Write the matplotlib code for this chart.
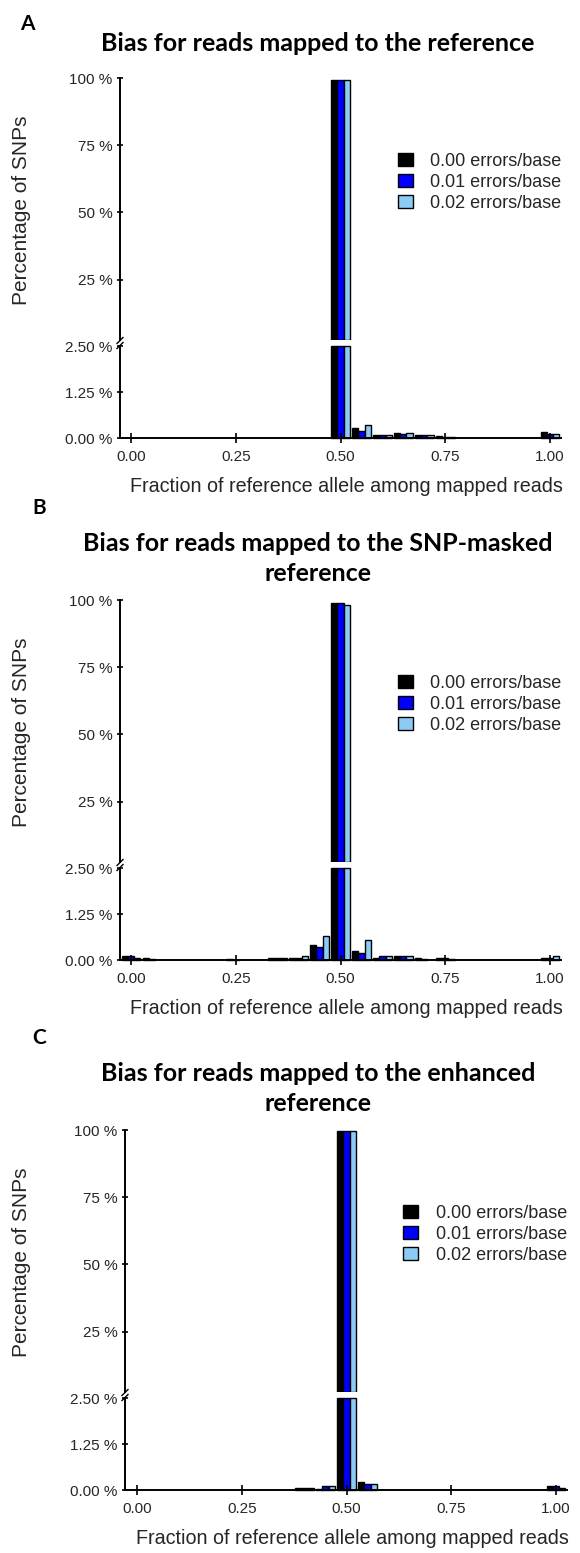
import numpy as np
import matplotlib
matplotlib.use('Agg')
import matplotlib.pyplot as plt

plt.rcParams['font.family'] = ['Liberation Sans', 'DejaVu Sans']

W, H = 580, 1553

# bin centres of the allele-fraction histogram
bins = [round(0.05 * i, 2) for i in range(21)]
series_labels = ['0.00 errors/base', '0.01 errors/base', '0.02 errors/base']
series_colors = ['#000000', '#0000ff', '#8ccbf5']

# panel A: reads mapped to the reference (percent of SNPs per bin)
a_err000 = [0, 0, 0, 0, 0, 0, 0, 0, 0, 0, 99.3, 0.28, 0.07, 0.14, 0.07, 0.05, 0, 0, 0, 0, 0.15]
a_err001 = [0, 0, 0, 0, 0, 0, 0, 0, 0, 0, 99.4, 0.19, 0.07, 0.12, 0.07, 0.03, 0, 0, 0, 0, 0.12]
a_err002 = [0, 0, 0, 0, 0, 0, 0, 0, 0, 0, 99.3, 0.35, 0.07, 0.14, 0.07, 0.02, 0, 0, 0, 0, 0.12]

# panel B: SNP-masked reference
b_err000 = [0.12, 0.06, 0, 0, 0, 0.03, 0, 0.06, 0.05, 0.40, 98.9, 0.24, 0.05, 0.12, 0.06, 0.05, 0, 0, 0, 0, 0.06]
b_err001 = [0.12, 0.02, 0, 0, 0, 0.01, 0, 0.06, 0.05, 0.36, 98.9, 0.20, 0.12, 0.12, 0.02, 0.05, 0, 0, 0, 0, 0.06]
b_err002 = [0.06, 0, 0, 0, 0, 0, 0, 0.06, 0.12, 0.66, 98.0, 0.55, 0.12, 0.12, 0, 0.03, 0, 0, 0, 0, 0.12]

# panel C: enhanced reference
c_err000 = [0, 0, 0, 0, 0, 0, 0, 0, 0.05, 0.04, 99.6, 0.23, 0, 0, 0, 0, 0, 0, 0, 0, 0.11]
c_err001 = [0, 0, 0, 0, 0, 0, 0, 0, 0.05, 0.11, 99.6, 0.15, 0, 0, 0, 0, 0, 0, 0, 0, 0.11]
c_err002 = [0, 0, 0, 0, 0, 0, 0, 0, 0.05, 0.11, 99.6, 0.17, 0, 0, 0, 0, 0, 0, 0, 0, 0.05]

panel_letters = ['A', 'B', 'C']
panel_titles = ['Bias for reads mapped to the reference',
                'Bias for reads mapped to the SNP-masked\nreference',
                'Bias for reads mapped to the enhanced\nreference']
x_ticks = [0.0, 0.25, 0.5, 0.75, 1.0]
upper_ticks = [25, 50, 75, 100]
lower_ticks = [0.0, 1.25, 2.5]

TXT = '#262626'
fig = plt.figure(figsize=(W / 100, H / 100), dpi=100)


def px_axes(left, top, right, bottom):
    return fig.add_axes([left / W, 1 - bottom / H, (right - left) / W, (bottom - top) / H])


def draw_panel(series, letter, title, top, x_left, x0, x1, x_right, letter_x):
    # top = pixel row of the 100 % tick
    up_bot = top + 262
    lo_top = up_bot + 6
    lo_bot = lo_top + 92
    scale = x1 - x0
    xlim = ((x_left - x0) / scale, (x_right - x0) / scale)

    ax_up = px_axes(x_left, top, x_right, up_bot)
    ax_lo = px_axes(x_left, lo_top, x_right, lo_bot)
    up_lo, lo_hi = 2.5, 2.5
    x = np.array(bins)
    width = 0.015
    for i, (vals, col, lab) in enumerate(zip(series, series_colors, series_labels)):
        v = np.array(vals)
        xs = x + (i - 1) * width
        big = v > up_lo
        ax_up.bar(xs[big], v[big] - up_lo, bottom=up_lo, width=width, color=col,
                  edgecolor='black', linewidth=1, label=lab)
        small = v > 0
        bars = ax_lo.bar(xs[small], np.minimum(v[small], lo_hi), width=width, color=col,
                         edgecolor='black', linewidth=1)
        for b in bars:
            b.set_clip_on(False)

    ax_up.set_ylim(up_lo, 100)
    ax_lo.set_ylim(0, lo_hi)
    for ax in (ax_up, ax_lo):
        ax.set_xlim(*xlim)
        ax.spines['top'].set_visible(False)
        ax.spines['right'].set_visible(False)
        ax.spines['left'].set_linewidth(1.4)
        ax.spines['bottom'].set_linewidth(1.4)
        ax.tick_params(axis='y', direction='inout', length=5, width=1.2, labelsize=11,
                       labelcolor=TXT, pad=3)
        ax.tick_params(axis='x', direction='inout', length=7, width=1.2, labelsize=11,
                       labelcolor=TXT, pad=5)
        ax.set_facecolor('none')
    ax_up.spines['bottom'].set_visible(False)
    ax_up.set_xticks([])
    ax_up.set_yticks(upper_ticks)
    ax_up.set_yticklabels([f'{t} %' for t in upper_ticks])
    ax_lo.set_yticks(lower_ticks)
    ax_lo.set_yticklabels([f'{t:.2f} %' for t in lower_ticks])
    ax_lo.set_xticks(x_ticks)
    ax_lo.set_xticklabels([f'{t:.2f}' for t in x_ticks])
    fig.text((x0 + x1) / 2 / W + 6 / W, 1 - (lo_bot + 48) / H,
             'Fraction of reference allele among mapped reads',
             ha='center', va='center', fontsize=14.2, color=TXT)

    # break marks on the y axis
    for dy in (-2.5, 2.5):
        yb = 1 - (up_bot + 3 + dy) / H
        xb = x_left / W
        fig.add_artist(plt.Line2D([xb - 3 / W, xb + 3 / W], [yb - 3 / H, yb + 3 / H],
                                  color='black', linewidth=1.0))

    ax_up.legend(loc='upper left', bbox_to_anchor=(0.63, 0.715), frameon=False,
                 fontsize=13, handlelength=0.83, handleheight=0.72, handletextpad=0.95,
                 labelspacing=0.22, borderpad=0, borderaxespad=0, labelcolor=TXT)

    fig.text(22 / W, 1 - (top + 132) / H, 'Percentage of SNPs', rotation=90,
             ha='center', va='center', fontsize=15, color=TXT)
    n_lines = title.count('\n') + 1
    last_line = top - (35 if n_lines == 1 else 27)
    fig.text(318 / W, 1 - (last_line + 12) / H, title, ha='center', va='bottom',
             fontsize=18, fontweight='bold', family=['Lato', 'DejaVu Sans'],
             linespacing=1.36)
    letter_y = top - (54 if n_lines == 1 else 92)
    fig.text(letter_x / W, 1 - letter_y / H, letter, ha='left',
             va='center', fontsize=15, fontweight='bold', family=['Lato', 'DejaVu Sans'])


series_all = [(a_err000, a_err001, a_err002),
              (b_err000, b_err001, b_err002),
              (c_err000, c_err001, c_err002)]
tops = [78, 600, 1130]
xgeom = [(120, 131, 550, 561, 20), (120, 131, 550, 561, 32), (125, 137, 556, 567, 32)]

for s, letter, title, top, g in zip(series_all, panel_letters, panel_titles, tops, xgeom):
    draw_panel(s, letter, title, top, *g)

fig.savefig('out.png', dpi=100)
